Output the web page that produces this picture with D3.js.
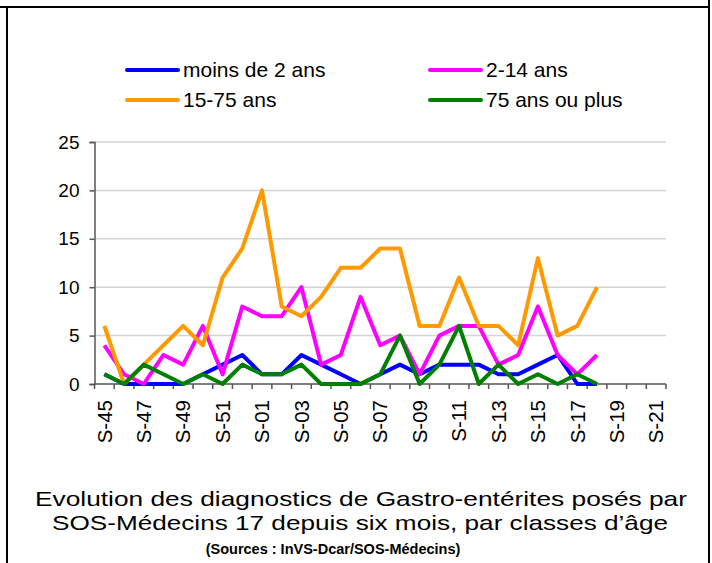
<!DOCTYPE html>
<meta charset="utf-8">
<title>Gastro-entérites SOS-Médecins 17</title>
<script src="https://d3js.org/d3.v7.min.js"></script>
<style>
  body { margin: 0; background: #fff; }
  text { font-family: "Liberation Sans", Arial, sans-serif; fill: #000; }
</style>
<body>
<div id="chart"></div>
<script>

// weeks (S-45 .. S-52 then S-01 .. S-21)
var weeks = ["S-45","S-46","S-47","S-48","S-49","S-50","S-51","S-52",
  "S-01","S-02","S-03","S-04","S-05","S-06","S-07","S-08","S-09","S-10",
  "S-11","S-12","S-13","S-14","S-15","S-16","S-17","S-18","S-19","S-20","S-21"];

var moins2   = [1,0,0,0,0,1,2,3,1,1,3,2,1,0,1,2,1,2,2,2,1,1,2,3,0,0,null,null,null];
var ans2_14  = [4,1,0,3,2,6,1,8,7,7,10,2,3,9,4,5,1,5,6,6,2,3,8,3,1,3,null,null,null];
var ans15_75 = [6,0,2,4,6,4,11,14,20,8,7,9,12,12,14,14,6,6,11,6,6,4,13,5,6,10,null,null,null];
var ans75    = [1,0,2,1,0,1,0,2,1,1,2,0,0,0,1,5,0,2,6,0,2,0,1,0,1,0,null,null,null];

var seriesNames = ["moins de 2 ans", "2-14 ans", "15-75 ans", "75 ans ou plus"];
var seriesColors = ["#0000ff", "#ff00ff", "#ff9900", "#008000"];
var yTicks = [0, 5, 10, 15, 20, 25];

var series = [
  { name: seriesNames[0], color: seriesColors[0], values: moins2 },
  { name: seriesNames[1], color: seriesColors[1], values: ans2_14 },
  { name: seriesNames[2], color: seriesColors[2], values: ans15_75 },
  { name: seriesNames[3], color: seriesColors[3], values: ans75 }
];

var W = 712, H = 563;
var svg = d3.select("#chart").append("svg")
  .attr("width", W).attr("height", H);

// frame (table cell look)
svg.append("line").attr("x1", 0).attr("x2", 710).attr("y1", 7).attr("y2", 7)
  .attr("stroke", "#000").attr("stroke-width", 2);
svg.append("line").attr("x1", 7).attr("x2", 7).attr("y1", 7).attr("y2", H)
  .attr("stroke", "#000").attr("stroke-width", 2);
svg.append("line").attr("x1", 709).attr("x2", 709).attr("y1", 0).attr("y2", H)
  .attr("stroke", "#000").attr("stroke-width", 2);

var plot = { left: 94.5, right: 666, top: 142, bottom: 384 };

var x = d3.scaleBand()
  .domain(weeks)
  .range([plot.left, plot.right]);

var y = d3.scaleLinear()
  .domain([0, 25])
  .range([plot.bottom, plot.top]);

// gridlines
svg.append("g")
  .selectAll("line")
  .data(yTicks.filter(function(d){ return d > 0; }))
  .enter().append("line")
    .attr("x1", plot.left).attr("x2", plot.right)
    .attr("y1", function(d){ return y(d); })
    .attr("y2", function(d){ return y(d); })
    .attr("stroke", "#d4d4d4").attr("stroke-width", 1.5);

// y axis
var yAxis = svg.append("g")
  .attr("transform", "translate(" + plot.left + ",0)")
  .call(d3.axisLeft(y).tickValues(yTicks).tickSize(5).tickPadding(10));
yAxis.select(".domain").attr("stroke", "#555").attr("stroke-width", 1.5);
yAxis.selectAll(".tick line").attr("stroke", "#555").attr("stroke-width", 1.5);
yAxis.selectAll("text")
  .style("font-family", "'Liberation Sans', Arial, sans-serif")
  .style("font-size", "19px").attr("fill", "#000");

// x axis: ticks at band edges
var xAxisG = svg.append("g")
  .attr("transform", "translate(0," + plot.bottom + ")");
var edges = weeks.map(function(d){ return x(d); }).concat([plot.right]);
xAxisG.append("line")
  .attr("x1", plot.left).attr("x2", plot.right)
  .attr("stroke", "#555").attr("stroke-width", 1.5);
xAxisG.selectAll(".edge")
  .data(edges)
  .enter().append("line")
    .attr("x1", function(d){ return d; }).attr("x2", function(d){ return d; })
    .attr("y1", 0).attr("y2", 5)
    .attr("stroke", "#555").attr("stroke-width", 1.5);

xAxisG.selectAll(".lbl")
  .data(weeks.filter(function(d, i){ return i % 2 === 0; }))
  .enter().append("text")
    .attr("transform", function(d){
      return "translate(" + (x(d) + x.bandwidth() / 2) + ",16) rotate(-90)";
    })
    .attr("text-anchor", "end")
    .attr("dy", "0.35em")
    .style("font-size", "20.5px")
    .text(function(d){ return d; });

// lines
var line = d3.line()
  .defined(function(d){ return d != null; })
  .x(function(d, i){ return x(weeks[i]) + x.bandwidth() / 2; })
  .y(function(d){ return y(d); });

svg.selectAll(".serie")
  .data(series)
  .enter().append("path")
    .attr("fill", "none")
    .attr("stroke", function(d){ return d.color; })
    .attr("stroke-width", 4)
    .attr("stroke-linejoin", "round")
    .attr("d", function(d){ return line(d.values); });

// legend
var legendPos = [[127, 70], [430, 70], [127, 100], [430, 100]];
var legend = svg.selectAll(".leg")
  .data(series)
  .enter().append("g")
    .attr("transform", function(d, i){
      return "translate(" + legendPos[i][0] + "," + legendPos[i][1] + ")";
    });
legend.append("line")
  .attr("x1", 0).attr("x2", 51)
  .attr("stroke", function(d){ return d.color; })
  .attr("stroke-width", 4)
  .attr("stroke-linecap", "round");
legend.append("text")
  .attr("x", 56).attr("dy", "0.35em")
  .style("font-size", "21px")
  .text(function(d){ return d.name; });

// title (stretched a bit, like the original)
svg.append("text")
  .attr("x", 361).attr("y", 506)
  .attr("text-anchor", "middle")
  .style("font-size", "21px")
  .attr("textLength", 652).attr("lengthAdjust", "spacingAndGlyphs")
  .text("Evolution des diagnostics de Gastro-entérites posés par");
svg.append("text")
  .attr("x", 360).attr("y", 530)
  .attr("text-anchor", "middle")
  .style("font-size", "21px")
  .attr("textLength", 616).attr("lengthAdjust", "spacingAndGlyphs")
  .text("SOS-Médecins 17 depuis six mois, par classes d\u2019âge");
svg.append("text")
  .attr("x", 333).attr("y", 554)
  .attr("text-anchor", "middle")
  .style("font-size", "14.5px")
  .style("font-weight", "bold")
  .text("(Sources : InVS-Dcar/SOS-Médecins)");

</script>
</body>
